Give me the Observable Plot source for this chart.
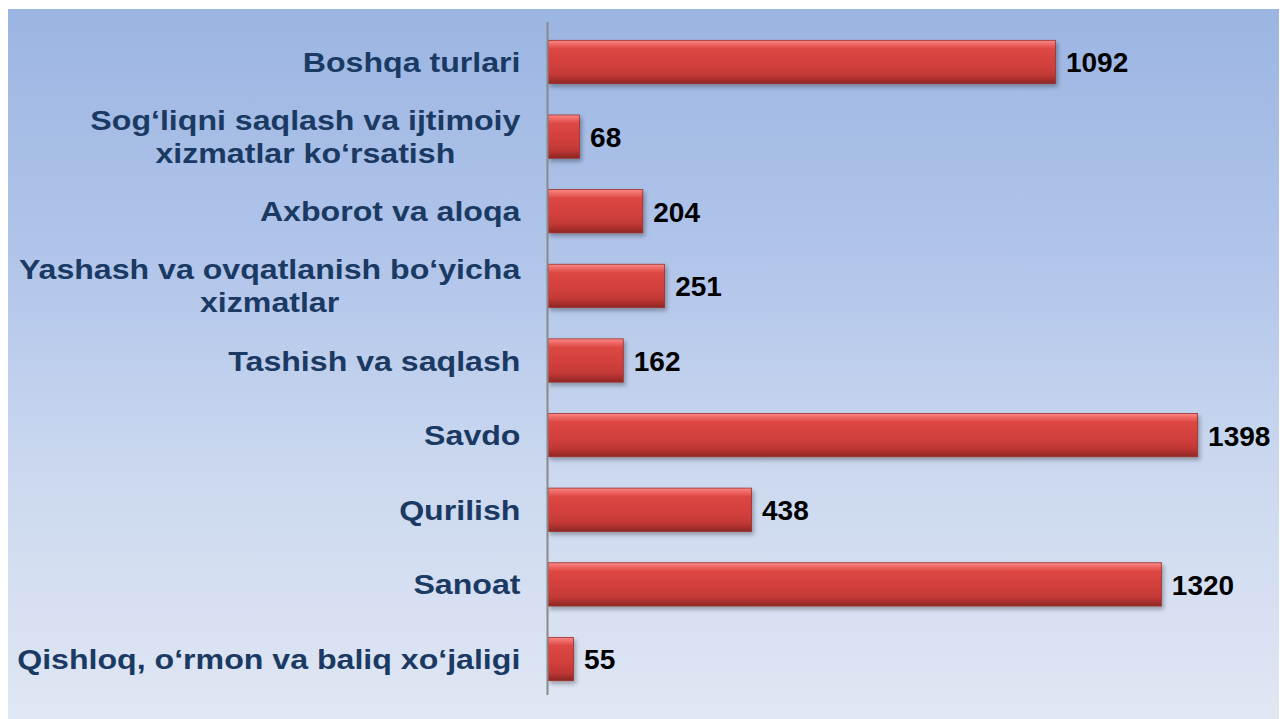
<!DOCTYPE html>
<html><head><meta charset="utf-8">
<script src="https://cdn.jsdelivr.net/npm/d3@7"></script>
<script src="https://cdn.jsdelivr.net/npm/@observablehq/plot@0.6"></script>
<style>
html,body{margin:0;padding:0;background:#fff;}
#wrap{position:relative;width:1282px;height:719px;overflow:hidden;}
#bg{position:absolute;left:8px;top:9px;width:1271px;height:710px;
  background:linear-gradient(to bottom,#9bb5e2 0%,#b1c5ea 35%,#cbd8ef 65%,#e0e7f4 100%);}
#chart{position:absolute;left:0;top:0;}
</style></head><body>
<div id="wrap"><div id="bg"></div><div id="chart"></div></div>
<script>
const categories = [
  "Boshqa turlari",
  "Sog‘liqni saqlash va ijtimoiy\nxizmatlar ko‘rsatish",
  "Axborot va aloqa",
  "Yashash va ovqatlanish bo‘yicha\nxizmatlar",
  "Tashish va saqlash",
  "Savdo",
  "Qurilish",
  "Sanoat",
  "Qishloq, o‘rmon va baliq xo‘jaligi"
];
const values = [1092, 68, 204, 251, 162, 1398, 438, 1320, 55];

const data = categories.map((c, i) => ({category: c, value: values[i]}));

const FONT = "'Liberation Sans', Arial, Helvetica, sans-serif";
const LABEL_SIZE = 27;
const SX = 1.19; // horizontal stretch of category labels
const canvas = document.createElement("canvas");
const ctx = canvas.getContext("2d");
ctx.font = `bold ${LABEL_SIZE}px 'Liberation Sans', Arial, sans-serif`;
function blockWidth(s) {
  return Math.max(...s.split("\n").map(l => ctx.measureText(l).width)) * SX;
}

const labelMarks = data.map(d => Plot.text([d], {
  x: () => 0,
  y: "category",
  text: "category",
  textAnchor: "middle",
  lineAnchor: "middle",
  lineHeight: 1.22,
  dx: -(28 + blockWidth(d.category) / 2),
  dy: -1,
  fontSize: LABEL_SIZE,
  fontWeight: "bold",
  fill: "#1a3a63"
}));

const plot = Plot.plot({
  width: 1282,
  height: 719,
  marginLeft: 548,
  marginRight: 37,
  marginTop: 9,
  marginBottom: 7,
  style: {background: "transparent", fontFamily: FONT, overflow: "visible"},
  x: {domain: [0, 1500], axis: null},
  y: {domain: categories, axis: null, padding: 0.42, round: false},
  marks: [
    Plot.barX(data, {x: "value", y: "category", fill: "url(#barGrad)", stroke: "#9c2f2c", strokeWidth: 0.8}),
    Plot.ruleX([0], {stroke: "#8a8a8a", strokeWidth: 2, dx: -1, insetTop: 13, insetBottom: 17}),
    ...labelMarks,
    Plot.text(data, {
      x: "value", y: "category", text: d => String(d.value),
      textAnchor: "start", dx: 10, dy: 1,
      fontSize: 28, fontWeight: "bold", fill: "#000"
    })
  ]
});

const svg = d3.select(plot);
const defs = svg.insert("defs", ":first-child");
const grad = defs.append("linearGradient").attr("id", "barGrad")
  .attr("x1", 0).attr("y1", 0).attr("x2", 0).attr("y2", 1);
[[0, "#f88a88"], [0.08, "#f06c6a"], [0.2, "#dd4743"], [0.6, "#d03f3c"],
 [0.8, "#c13835"], [0.9, "#a92f2d"], [1, "#8c2725"]].forEach(([o, c]) =>
  grad.append("stop").attr("offset", o).attr("stop-color", c));
const filt = defs.append("filter").attr("id", "shadow")
  .attr("x", "-5%").attr("y", "-20%").attr("width", "115%").attr("height", "160%");
filt.append("feDropShadow").attr("dx", 2).attr("dy", 3).attr("stdDeviation", 2)
  .attr("flood-color", "#000").attr("flood-opacity", 0.3);
svg.selectAll("rect").filter(function() {
  return this.getAttribute("fill") === "url(#barGrad)" || (this.parentNode && this.parentNode.getAttribute("fill") === "url(#barGrad)");
}).each(function() {
  const g = this.parentNode;
  if (g.getAttribute("fill") === "url(#barGrad)") g.setAttribute("filter", "url(#shadow)");
  else this.setAttribute("filter", "url(#shadow)");
});

const labelSet = new Set(categories.map(c => c.replace("\n", "")));
svg.selectAll("text").each(function() {
  if (!labelSet.has(this.textContent)) return;
  const t = this.getAttribute("transform");
  if (t) this.setAttribute("transform", t + ` scale(${SX},1)`);
  else {
    const x = this.getAttribute("x") || 0, y = this.getAttribute("y") || 0;
    this.removeAttribute("x"); this.removeAttribute("y");
    this.setAttribute("transform", `translate(${x},${y}) scale(${SX},1)`);
  }
});

document.getElementById("chart").appendChild(plot);
</script>
</body></html>
